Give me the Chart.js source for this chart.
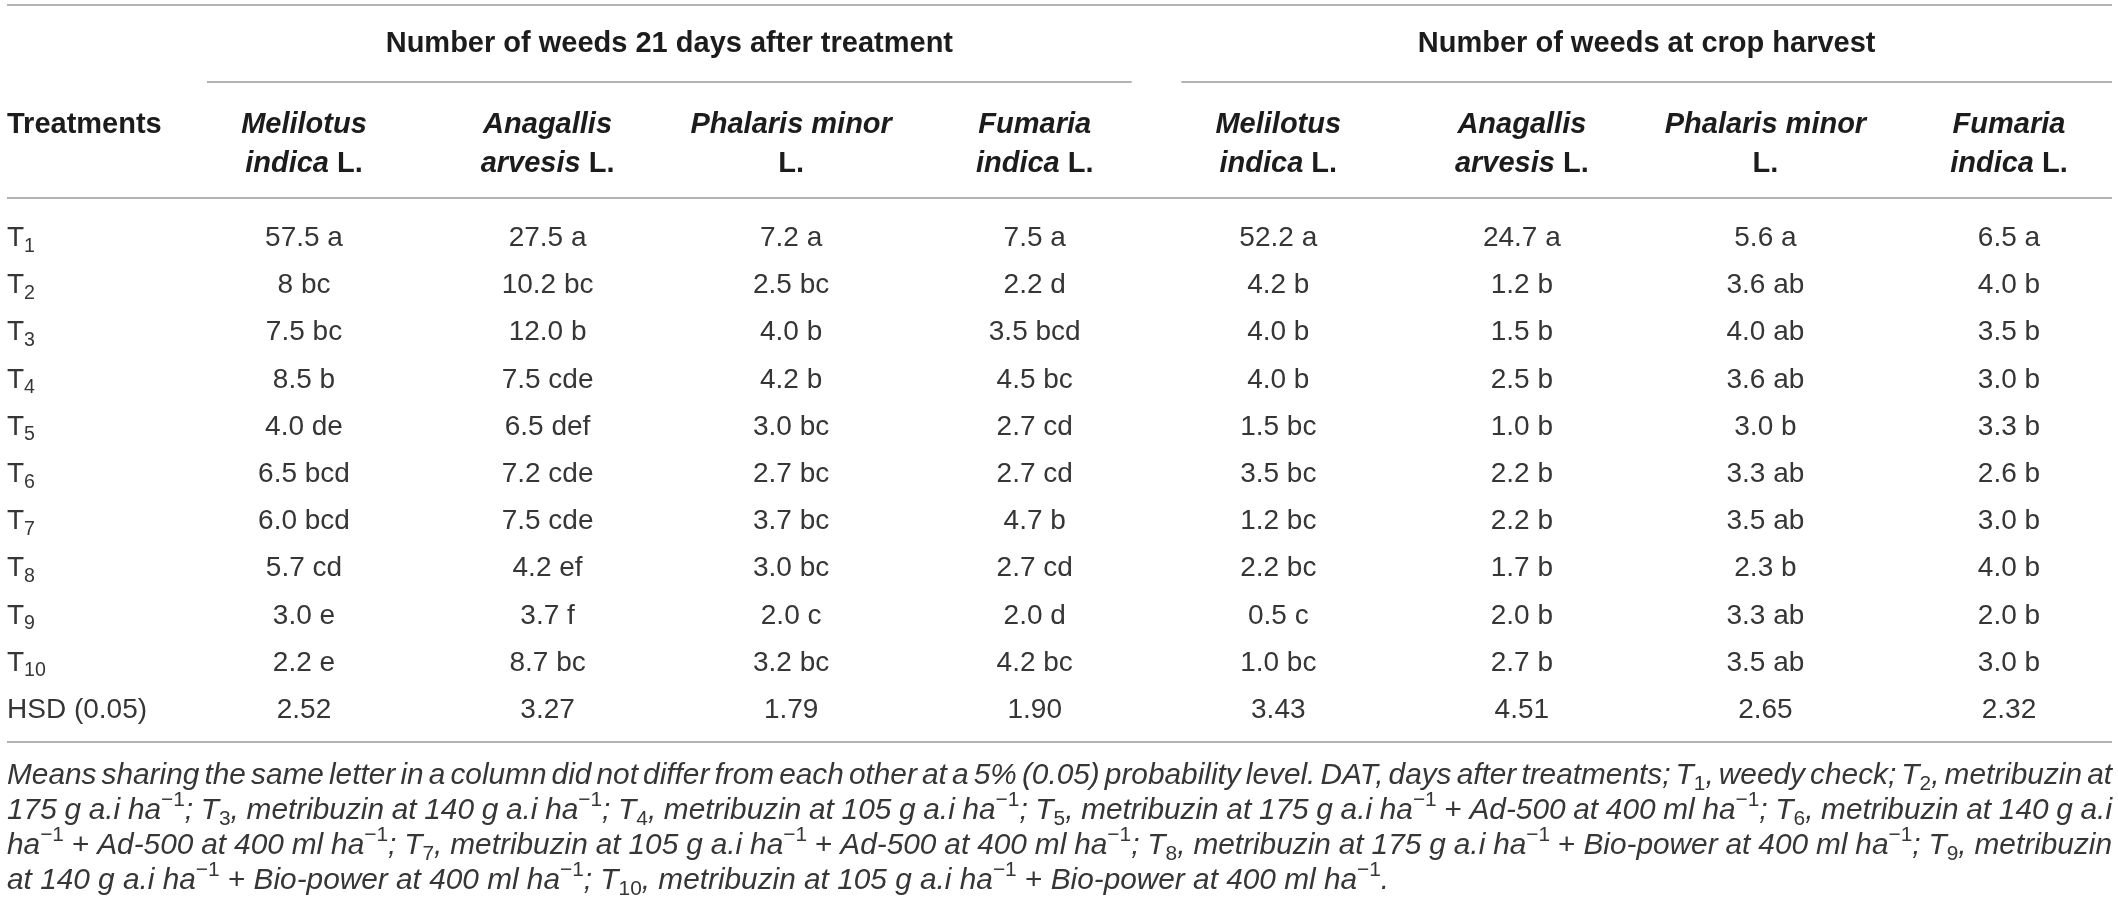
<!DOCTYPE html>
<html>
<head>
<meta charset="utf-8">
<script src="https://cdn.jsdelivr.net/npm/chart.js@4.4.1/dist/chart.umd.min.js"></script>
<style>
  html, body { margin: 0; padding: 0; background: #ffffff; }
  #wrap { width: 2118px; height: 903px; }
</style>
</head>
<body>
<div id="wrap"><canvas id="c" width="2118" height="903"></canvas></div>
<script>
// ---------------- DATA ----------------
const rowLabels = ['T1', 'T2', 'T3', 'T4', 'T5', 'T6', 'T7', 'T8', 'T9', 'T10', 'HSD (0.05)'];
const columnKeys = ['mel21', 'ana21', 'pha21', 'fum21', 'melH', 'anaH', 'phaH', 'fumH'];
const groupTitles = ['Number of weeds 21 days after treatment', 'Number of weeds at crop harvest'];
const groupFirstCol = [0, 4];
const groupLastCol = [3, 7];
const speciesLine1 = ['Melilotus', 'Anagallis', 'Phalaris minor', 'Fumaria'];
const speciesLine2Italic = ['indica', 'arvesis', '', 'indica'];
const speciesAuthority = 'L.';
const firstColumnTitle = 'Treatments';

// 21 days after treatment
const melilotus21 = ['57.5', '8', '7.5', '8.5', '4.0', '6.5', '6.0', '5.7', '3.0', '2.2'];
const melilotus21Letters = ['a', 'bc', 'bc', 'b', 'de', 'bcd', 'bcd', 'cd', 'e', 'e'];
const anagallis21 = ['27.5', '10.2', '12.0', '7.5', '6.5', '7.2', '7.5', '4.2', '3.7', '8.7'];
const anagallis21Letters = ['a', 'bc', 'b', 'cde', 'def', 'cde', 'cde', 'ef', 'f', 'bc'];
const phalaris21 = ['7.2', '2.5', '4.0', '4.2', '3.0', '2.7', '3.7', '3.0', '2.0', '3.2'];
const phalaris21Letters = ['a', 'bc', 'b', 'b', 'bc', 'bc', 'bc', 'bc', 'c', 'bc'];
const fumaria21 = ['7.5', '2.2', '3.5', '4.5', '2.7', '2.7', '4.7', '2.7', '2.0', '4.2'];
const fumaria21Letters = ['a', 'd', 'bcd', 'bc', 'cd', 'cd', 'b', 'cd', 'd', 'bc'];
// at crop harvest
const melilotusH = ['52.2', '4.2', '4.0', '4.0', '1.5', '3.5', '1.2', '2.2', '0.5', '1.0'];
const melilotusHLetters = ['a', 'b', 'b', 'b', 'bc', 'bc', 'bc', 'bc', 'c', 'bc'];
const anagallisH = ['24.7', '1.2', '1.5', '2.5', '1.0', '2.2', '2.2', '1.7', '2.0', '2.7'];
const anagallisHLetters = ['a', 'b', 'b', 'b', 'b', 'b', 'b', 'b', 'b', 'b'];
const phalarisH = ['5.6', '3.6', '4.0', '3.6', '3.0', '3.3', '3.5', '2.3', '3.3', '3.5'];
const phalarisHLetters = ['a', 'ab', 'ab', 'ab', 'b', 'ab', 'ab', 'b', 'ab', 'ab'];
const fumariaH = ['6.5', '4.0', '3.5', '3.0', '3.3', '2.6', '3.0', '4.0', '2.0', '3.0'];
const fumariaHLetters = ['a', 'b', 'b', 'b', 'b', 'b', 'b', 'b', 'b', 'b'];
// HSD (0.05) row
const hsdValues = ['2.52', '3.27', '1.79', '1.90', '3.43', '4.51', '2.65', '2.32'];

const footnoteLines = [
  'Means sharing the same letter in a column did not differ from each other at a 5% (0.05) probability level. DAT, days after treatments; T_{1}, weedy check; T_{2}, metribuzin at',
  '175 g a.i ha^{\u22121}; T_{3}, metribuzin at 140 g a.i ha^{\u22121}; T_{4}, metribuzin at 105 g a.i ha^{\u22121}; T_{5}, metribuzin at 175 g a.i ha^{\u22121} + Ad-500 at 400 ml ha^{\u22121}; T_{6}, metribuzin at 140 g a.i',
  'ha^{\u22121} + Ad-500 at 400 ml ha^{\u22121}; T_{7}, metribuzin at 105 g a.i ha^{\u22121} + Ad-500 at 400 ml ha^{\u22121}; T_{8}, metribuzin at 175 g a.i ha^{\u22121} + Bio-power at 400 ml ha^{\u22121}; T_{9}, metribuzin',
  'at 140 g a.i ha^{\u22121} + Bio-power at 400 ml ha^{\u22121}; T_{10}, metribuzin at 105 g a.i ha^{\u22121} + Bio-power at 400 ml ha^{\u22121}.'
];

// ---------------- STYLE / LAYOUT ----------------
const STYLE = {
  font: '"Liberation Sans", Arial, Helvetica, sans-serif',
  bodySize: 28, headSize: 29, footBaseSize: 26, footMaxSize: 31,
  footLastLineWidth: 1383,
  textColor: '#363636', headColor: '#1c1c1c',
  ruleColor: '#9a9a9a', ruleWidth: 1.6,
  tableLeft: 7, tableRight: 2112,
  topRuleY: 5, groupTitleY: 42, groupRuleY: 82,
  headLine1Y: 123, headLine2Y: 162, headRuleY: 198,
  footRuleY: 742, footFirstY: 773, footLineGap: 35,
  groupHalfSpan: 97
};

const columnValues = [melilotus21, anagallis21, phalaris21, fumaria21, melilotusH, anagallisH, phalarisH, fumariaH];
const columnLetters = [melilotus21Letters, anagallis21Letters, phalaris21Letters, fumaria21Letters,
                       melilotusHLetters, anagallisHLetters, phalarisHLetters, fumariaHLetters];

function cellText(ci, ri) {
  if (ri < columnValues[ci].length) return columnValues[ci][ri] + ' ' + columnLetters[ci][ri];
  return hsdValues[ci];
}

// ---------------- RICH TEXT ----------------
function fontStr(seg, size) {
  return (seg.i ? 'italic ' : '') + (seg.b ? 'bold ' : '') + size + 'px ' + STYLE.font;
}
function measureRich(ctx, segs, size) {
  return segs.reduce((a, s) => {
    ctx.font = fontStr(s, (s.sub || s.sup) ? size * 0.7 : size);
    return a + ctx.measureText(s.t).width;
  }, 0);
}
function drawRich(ctx, segs, x, y, align, size, color, justifyWidth) {
  const runs = segs.map(s => {
    const sz = (s.sub || s.sup) ? size * 0.7 : size;
    ctx.font = fontStr(s, sz);
    return Object.assign({}, s, { sz: sz, w: ctx.measureText(s.t).width });
  });
  let total = runs.reduce((a, r) => a + r.w, 0);
  let extra = 0;
  if (justifyWidth) {
    const n = runs.reduce((a, r) => a + (r.t.match(/ /g) || []).length, 0);
    extra = n ? (justifyWidth - total) / n : 0;
    total = justifyWidth;
  }
  let cx = align === 'center' ? x - total / 2 : (align === 'right' ? x - total : x);
  ctx.textAlign = 'left';
  ctx.textBaseline = 'alphabetic';
  ctx.fillStyle = color;
  const base = y + size * 0.358;
  for (const r of runs) {
    ctx.font = fontStr(r, r.sz);
    const dy = r.sub ? size * 0.2 : (r.sup ? -size * 0.42 : 0);
    if (!extra) {
      ctx.fillText(r.t, cx, base + dy);
      cx += r.w;
    } else {
      const parts = r.t.split(' ');
      const sw = ctx.measureText(' ').width;
      parts.forEach((p, k) => {
        if (p) { ctx.fillText(p, cx, base + dy); cx += ctx.measureText(p).width; }
        if (k < parts.length - 1) cx += sw + extra;
      });
    }
  }
}
function parseMarkup(str, italic) {
  const segs = [];
  const re = /_\{([^}]*)\}|\^\{([^}]*)\}|\+/g;
  let last = 0, m;
  while ((m = re.exec(str))) {
    if (m.index > last) segs.push({ t: str.slice(last, m.index), i: italic });
    if (m[1] !== undefined) segs.push({ t: m[1], sub: true });
    else if (m[2] !== undefined) segs.push({ t: m[2], sup: true });
    else segs.push({ t: '+' });
    last = re.lastIndex;
  }
  if (last < str.length) segs.push({ t: str.slice(last), i: italic });
  return segs;
}
function rowLabelSegs(label) {
  const m = /^T(\d+)$/.exec(label);
  if (m) return [{ t: 'T' }, { t: m[1], sub: true }];
  return [{ t: label }];
}

function hline(ctx, x1, x2, y) {
  ctx.beginPath();
  ctx.moveTo(x1, y);
  ctx.lineTo(x2, y);
  ctx.stroke();
}

// ---------------- TABLE PLUGIN ----------------
const tablePlugin = {
  id: 'tableDraw',
  afterDatasetsDraw(chart) {
    const ctx = chart.ctx;
    const xs = chart.scales.x;
    const ys = chart.scales.y;
    const S = STYLE;
    ctx.save();
    // rules
    ctx.strokeStyle = S.ruleColor;
    ctx.lineWidth = S.ruleWidth;
    hline(ctx, S.tableLeft, S.tableRight, S.topRuleY);
    hline(ctx, S.tableLeft, S.tableRight, S.headRuleY);
    hline(ctx, S.tableLeft, S.tableRight, S.footRuleY);
    groupTitles.forEach((title, g) => {
      const left = xs.getPixelForValue(groupFirstCol[g]) - S.groupHalfSpan;
      const right = g === groupTitles.length - 1 ? S.tableRight : xs.getPixelForValue(groupLastCol[g]) + S.groupHalfSpan;
      hline(ctx, left, right, S.groupRuleY);
      drawRich(ctx, [{ t: title, b: true }], (left + right) / 2, S.groupTitleY, 'center', S.headSize, S.headColor);
    });
    // first column title
    drawRich(ctx, [{ t: firstColumnTitle, b: true }], S.tableLeft, S.headLine1Y, 'left', S.headSize, S.headColor);
    // species headers
    columnKeys.forEach((k, ci) => {
      const sp = ci % speciesLine1.length;
      const x = xs.getPixelForValue(ci);
      drawRich(ctx, [{ t: speciesLine1[sp], b: true, i: true }], x, S.headLine1Y, 'center', S.headSize, S.headColor);
      const l2 = speciesLine2Italic[sp]
        ? [{ t: speciesLine2Italic[sp], b: true, i: true }, { t: ' ' + speciesAuthority, b: true }]
        : [{ t: speciesAuthority, b: true }];
      drawRich(ctx, l2, x, S.headLine2Y, 'center', S.headSize, S.headColor);
    });
    // row labels & cells (positions from the dataset elements / scales)
    rowLabels.forEach((r, ri) => {
      drawRich(ctx, rowLabelSegs(r), S.tableLeft, ys.getPixelForValue(ri), 'left', S.bodySize, S.textColor);
    });
    chart.data.datasets.forEach((ds, ci) => {
      const meta = chart.getDatasetMeta(ci);
      meta.data.forEach((el, ri) => {
        drawRich(ctx, [{ t: ds.cellTexts[ri] }], el.x, el.y, 'center', S.bodySize, S.textColor);
      });
    });
    // footnote: size fitted to the width of the (unjustified) last line; other lines justified
    const target = S.tableRight - S.tableLeft;
    const parsed = footnoteLines.map(l => parseMarkup(l, true));
    const lastNatural = measureRich(ctx, parsed[parsed.length - 1], S.footBaseSize);
    const footSize = Math.min(S.footMaxSize, S.footBaseSize * S.footLastLineWidth / lastNatural);
    parsed.forEach((segs, li) => {
      const y = S.footFirstY + li * S.footLineGap;
      const justify = li < parsed.length - 1 ? target : 0;
      drawRich(ctx, segs, S.tableLeft, y, 'left', footSize, S.textColor, justify);
    });
    ctx.restore();
  }
};

const datasets = columnKeys.map((key, ci) => ({
  label: key,
  data: rowLabels.map(r => ({ x: key, y: r })),
  cellTexts: rowLabels.map((r, ri) => cellText(ci, ri)),
  pointRadius: 0,
  pointHoverRadius: 0,
  showLine: false
}));

new Chart(document.getElementById('c'), {
  type: 'scatter',
  data: { datasets: datasets },
  options: {
    responsive: false,
    animation: false,
    events: [],
    devicePixelRatio: 1,
    layout: { padding: { left: 304, right: 109, top: 236, bottom: 195 } },
    plugins: { legend: { display: false }, tooltip: { enabled: false } },
    scales: {
      x: { type: 'category', labels: columnKeys, offset: false, display: false },
      y: { type: 'category', labels: rowLabels, offset: false, display: false }
    }
  },
  plugins: [tablePlugin]
});
</script>
</body>
</html>
